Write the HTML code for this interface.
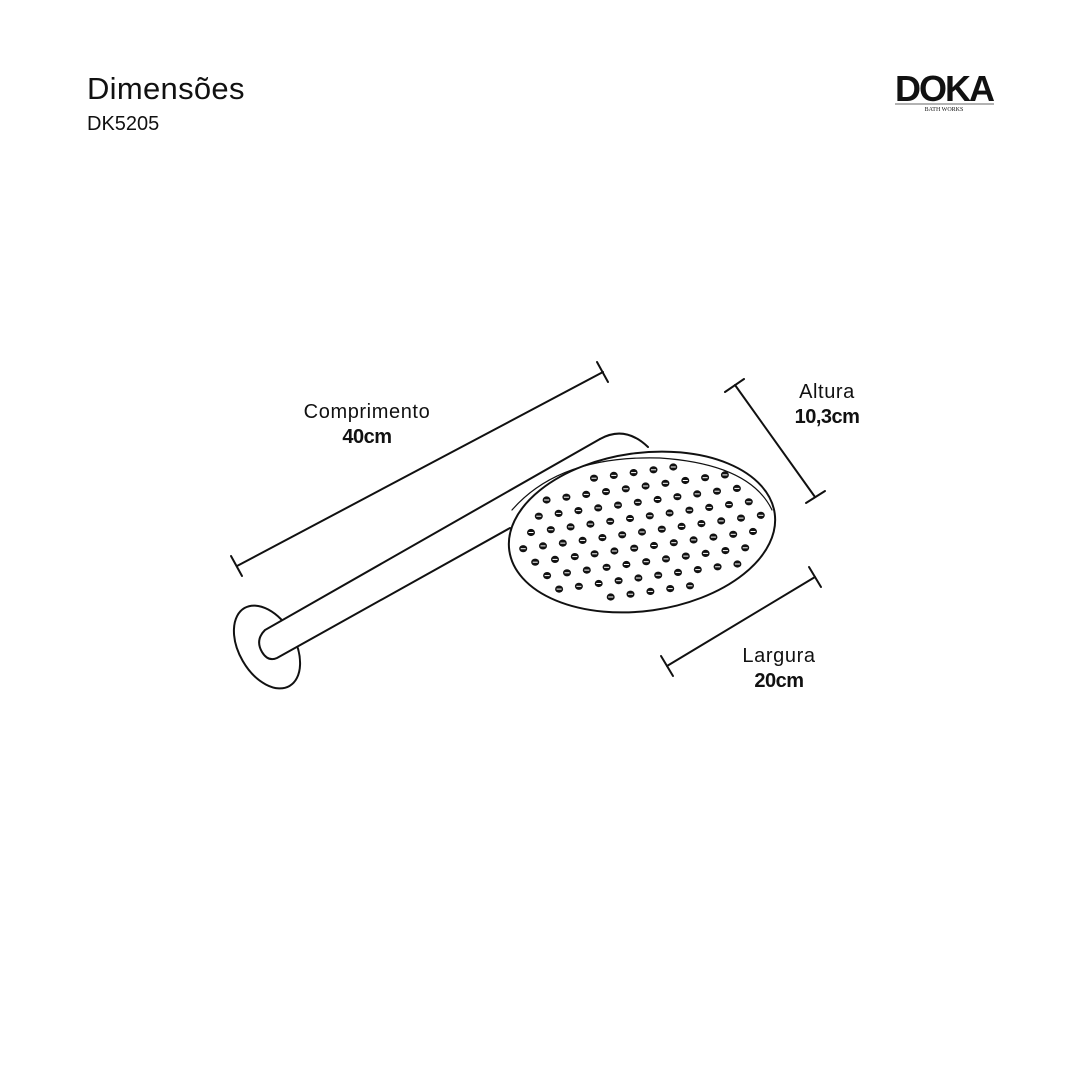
<!DOCTYPE html>
<html><head><meta charset="utf-8"><style>
body{margin:0;width:1080px;height:1080px;background:#fff;overflow:hidden;font-family:"Liberation Sans",sans-serif;}
svg{position:absolute;left:0;top:0}
</style></head><body>
<svg id="s" width="1080" height="1080" viewBox="0 0 1080 1080">
<text x="87" y="99" font-size="31" fill="#111" letter-spacing="0.3">Dimensões</text>
<text x="87" y="130" font-size="20" fill="#111">DK5205</text>
<text x="895" y="101" font-size="36" font-weight="bold" fill="#111" letter-spacing="-2">DOKA</text>
<line x1="895" y1="104" x2="994" y2="104" stroke="#999" stroke-width="1.5"/>
<text x="944" y="111" font-size="6" text-anchor="middle" fill="#111" font-family="Liberation Serif">BATH WORKS</text>
<g font-size="20" fill="#111" text-anchor="middle" letter-spacing="0.6">
<text x="367" y="418">Comprimento</text>
<text x="367" y="443" font-weight="bold" letter-spacing="-0.5">40cm</text>
<text x="827" y="398">Altura</text>
<text x="827" y="423" font-weight="bold" letter-spacing="-0.5">10,3cm</text>
<text x="779" y="662">Largura</text>
<text x="779" y="687" font-weight="bold" letter-spacing="-0.5">20cm</text>
</g>
<g stroke="#111" stroke-width="2" fill="none" stroke-linecap="round">
<line x1="237" y1="566" x2="603" y2="372"/>
<line x1="231" y1="556" x2="242" y2="576"/>
<line x1="597" y1="362" x2="608" y2="382"/>
<line x1="735" y1="385" x2="815" y2="497"/>
<line x1="725" y1="392" x2="744" y2="379"/>
<line x1="806" y1="503" x2="825" y2="491"/>
<line x1="667" y1="666" x2="815" y2="577"/>
<line x1="661" y1="656" x2="673" y2="676"/>
<line x1="809" y1="567" x2="821" y2="587"/>
<ellipse cx="267" cy="647" rx="28" ry="45" transform="rotate(-30 267 647)" fill="#fff"/>
<path d="M600 439 L265 630 Q255 640 262 652 Q268 662 277 658 L510 528" fill="#fff"/>
<path d="M600 439 Q625 425 648 447"/>
<ellipse cx="642" cy="532" rx="134" ry="79" transform="rotate(-8 642 532)" fill="#fff"/>
<path d="M512 510 Q560 455 660 458 Q750 464 772 510" stroke-width="1.2"/>
</g>
<g id="d"></g>
</svg>
<script>
var g=document.getElementById('d'),h='';
var cx=642,cy=532,a=-8*Math.PI/180;
for(var i=-7;i<=7;i++)for(var j=-5;j<=5;j++){
var u=i*20+(j%2?10:0),v=j*15;
if((u*u)/(122*122)+(v*v)/(68*68)>1)continue;
var x=cx+u*Math.cos(a)-v*Math.sin(a),y=cy+u*Math.sin(a)+v*Math.cos(a);
h+='<ellipse cx="'+x.toFixed(1)+'" cy="'+y.toFixed(1)+'" rx="4" ry="3.6" fill="#111"/><line x1="'+(x-2.5).toFixed(1)+'" y1="'+y.toFixed(1)+'" x2="'+(x+2.5).toFixed(1)+'" y2="'+y.toFixed(1)+'" stroke="#fff" stroke-width="1"/>';
}
g.innerHTML=h;
</script>
</body></html>
